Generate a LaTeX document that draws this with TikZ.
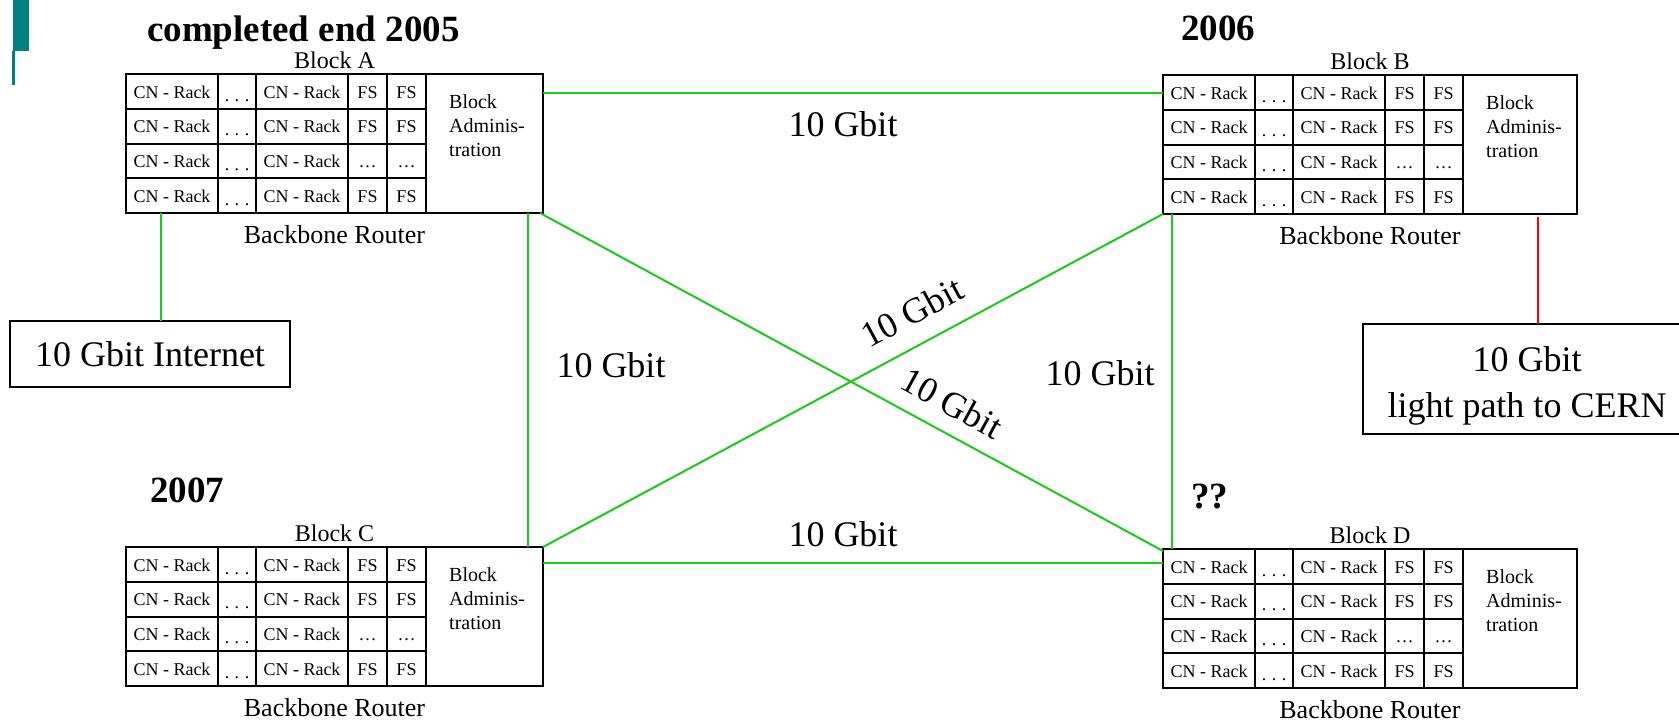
\documentclass[tikz,border=0pt]{standalone}
\usepackage{fontspec}
\setmainfont{Liberation Serif}
\usetikzlibrary{calc}
\definecolor{linkgreen}{RGB}{24,204,24}
\definecolor{slideteal}{RGB}{0,128,128}
\definecolor{linkred}{RGB}{255,0,0}
\tikzset{
  frame/.style={draw=black, line width=2.2pt, inner sep=0pt, outer sep=0pt},
  gridline/.style={draw=black, line width=2pt},
  celltext/.style={font=\fontsize{18}{20}\selectfont, inner sep=0pt, anchor=base},
  admtext/.style={font=\fontsize{20}{24}\selectfont, inner sep=0pt, anchor=base west},
  blocklabel/.style={font=\fontsize{24}{28}\selectfont, inner sep=0pt, anchor=base},
  routerlabel/.style={font=\fontsize{26}{30}\selectfont, inner sep=0pt, anchor=base},
  bigtext/.style={font=\fontsize{36}{46}\selectfont, inner sep=0pt},
  yeartext/.style={font=\fontsize{37}{44}\selectfont\bfseries, inner sep=0pt, anchor=base west},
  greenlink/.style={draw=linkgreen, line width=2pt},
  redlink/.style={draw=linkred, line width=2pt},
}
\newcommand\wdots{.\hspace{5.5pt}.\hspace{5.5pt}.}
\newcommand\rackblock[5]{%
  \node[frame, minimum width=#4pt, minimum height=139pt, anchor=north west] (#1) at (#2,#3) {};
  \foreach \cx in {92,130,222,261,300}{\draw[gridline] (#2+\cx,#3) -- (#2+\cx,#3+139);}
  \foreach \ry in {34.75,69.5,104.25}{\draw[gridline] (#2,#3+\ry) -- (#2+300,#3+\ry);}
  \foreach \r in {0,1,2,3}{
    \pgfmathsetmacro\by{#3+34.75*\r+24}
    \node[celltext] (#1r\r a) at (#2+46,\by) {CN - Rack};
    \node[celltext] (#1r\r b) at (#2+111,\by+3) {\wdots};
    \node[celltext] (#1r\r c) at (#2+176,\by) {CN - Rack};
    \ifnum\r=2
      \node[celltext] (#1r\r d) at (#2+241.5,\by) {…};
      \node[celltext] (#1r\r e) at (#2+280.5,\by) {…};
    \else
      \node[celltext] (#1r\r d) at (#2+241.5,\by) {FS};
      \node[celltext] (#1r\r e) at (#2+280.5,\by) {FS};
    \fi
  }
  \node[admtext] (#1adm) at (#2+323,#3+34) {\parbox[t]{100pt}{\raggedright Block\\Adminis-\\tration}};
  \node[blocklabel] (#1lbl) at (#2+#4/2,#3-6) {Block #5};
  \node[routerlabel] (#1bb) at (#2+#4/2,#3+139+30) {Backbone Router};
}
\begin{document}
\begin{tikzpicture}[x=1pt,y=-1pt]
\useasboundingbox (0,0) rectangle (1679,720);
\fill[white] (0,0) rectangle (1679,720);
% slide decoration
\fill[slideteal] (13,0) rectangle (29,51);
\fill[slideteal] (12,51) rectangle (14.5,85);
% titles
\node[yeartext] (yr05) at (147,41) {completed end 2005};
\node[yeartext] (yr06) at (1181,40) {2006};
\node[yeartext] (yr07) at (150,502) {2007};
\node[yeartext] (qq) at (1191,508) {??};
% blocks
\rackblock{A}{126}{74}{417}{A}
\rackblock{B}{1163}{75}{414}{B}
\rackblock{C}{126}{547}{417}{C}
\rackblock{D}{1163}{549}{414}{D}
% external boxes
\node[frame, bigtext, minimum width=280pt, minimum height=66pt, anchor=north west] (inet) at (10,321) {10 Gbit Internet};
\node[frame, minimum width=317pt, minimum height=110pt, anchor=north west] (cern) at (1363,324) {};
\node[bigtext, anchor=base] (cerntext) at (1527,371) {\parbox[t]{330pt}{\centering 10 Gbit\\light path to CERN}};
% links
\draw[greenlink] ([yshift=-19pt]A.north east) -- ([yshift=-18pt]B.north west);
\draw[greenlink] ([xshift=-3pt]A.south east) -- ([yshift=-2pt]D.north west);
\draw[greenlink] ([xshift=-15pt]A.south east) -- ([xshift=-15pt]C.north east);
\draw[greenlink] (B.south west) -- (C.north east);
\draw[greenlink] ([xshift=9pt]B.south west) -- ([xshift=9pt]D.north west);
\draw[greenlink] ([yshift=-16pt]C.north east) -- ([yshift=-14pt]D.north west);
\coordinate (inetTop) at ([xshift=35pt]A.south west);
\draw[greenlink] (inetTop) -- (inetTop |- inet.north);
\coordinate (cernTop) at ([xshift=-39pt,yshift=-3pt]B.south east);
\draw[redlink] (cernTop) -- (cernTop |- cern.north);
% link labels
\node[bigtext, anchor=base] (lab1) at (843,136) {10 Gbit};
\node[bigtext, anchor=base] (lab2) at (611,377) {10 Gbit};
\node[bigtext, anchor=base] (lab3) at (1100,385) {10 Gbit};
\node[bigtext, anchor=base] (lab4) at (843,546) {10 Gbit};
\node[bigtext, rotate=28.3] (lab5) at (912,312) {10 Gbit};
\node[bigtext, rotate=-28.5] (lab6) at (952,403) {10 Gbit};
\end{tikzpicture}
\end{document}
